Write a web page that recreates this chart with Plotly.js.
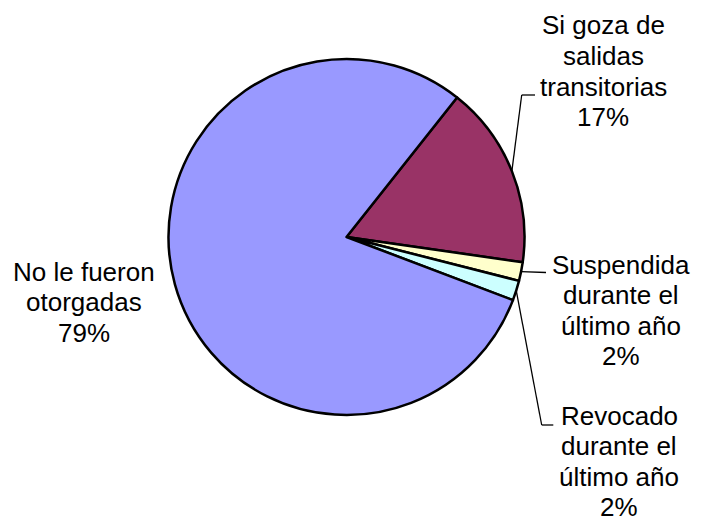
<!DOCTYPE html>
<html>
<head>
<meta charset="utf-8">
<script src="https://cdn.plot.ly/plotly-3.0.1.min.js"></script>
<style>html,body{margin:0;padding:0;background:#fff;}#chart{width:701px;height:522px;}</style>
</head>
<body>
<div id="chart"></div>
<script>
// ---- data ----
const categories = ["Si goza de salidas transitorias", "Suspendida durante el último año", "Revocado durante el último año", "No le fueron otorgadas"];
const values = [16.6, 1.7, 1.8, 79.9];
const pctLabels = ["17%", "2%", "2%", "79%"];
const labelLines = [
  ["Si goza de", "salidas", "transitorias"],
  ["Suspendida", "durante el", "último año"],
  ["Revocado", "durante el", "último año"],
  ["No le fueron", "otorgadas"]
];
const colors = ["#993366", "#FFFFCC", "#CCFFFF", "#9999FF"];

// ---- layout / geometry ----
const W = 701, H = 522;
const cx = 346.5, cy = 237, R = 178;
const rotation = 38.4;
const lineGap = 30.6;
// label placement (pixels): centre x, baseline of first line
const labelPos = [
  {x: 603, b: 35},
  {x: 621, b: 274},
  {x: 619, b: 425},
  {x: 84, b: 281}
];
// leader line bend points (pixels), null = no leader
const leaderBends = [
  [[521.7, 95], [535, 95]],
  [[546, 272.5]],
  [[541.7, 425], [553.3, 425]],
  null
];

const px = x => x / W;
const py = y => 1 - y / H;

const total = values.reduce((a, b) => a + b, 0);
let acc = rotation;
const midAngles = values.map(v => { const span = v / total * 360; const m = acc + span / 2; acc += span; return m; });

const annotations = [];
labelLines.forEach((lines, i) => {
  const all = lines.concat([pctLabels[i]]);
  all.forEach((t, j) => {
    annotations.push({
      xref: 'paper', yref: 'paper', showarrow: false,
      x: px(labelPos[i].x), y: py(labelPos[i].b + j * lineGap - 9.5),
      xanchor: 'center', yanchor: 'middle',
      text: t,
      font: {family: 'Liberation Sans, Arial, sans-serif', size: 26, color: '#000'}
    });
  });
});

const shapes = [];
leaderBends.forEach((bends, i) => {
  if (!bends) return;
  const a = midAngles[i] * Math.PI / 180;
  let pts = [[cx + R * Math.sin(a), cy - R * Math.cos(a)]].concat(bends);
  for (let k = 0; k < pts.length - 1; k++) {
    shapes.push({type: 'line', xref: 'paper', yref: 'paper',
      x0: px(pts[k][0]), y0: py(pts[k][1]), x1: px(pts[k + 1][0]), y1: py(pts[k + 1][1]),
      line: {color: '#000', width: 1.3}});
  }
});

const trace = {
  type: 'pie',
  labels: categories,
  values: values,
  sort: false,
  direction: 'clockwise',
  rotation: rotation,
  textinfo: 'none',
  hoverinfo: 'label+percent',
  marker: {colors: colors, line: {color: '#000', width: 2.5}},
  domain: {x: [px(cx - R), px(cx + R)], y: [py(cy + R), py(cy - R)]},
  showlegend: false
};

Plotly.newPlot('chart', [trace], {
  width: W, height: H,
  margin: {l: 0, r: 0, t: 0, b: 0},
  paper_bgcolor: '#fff',
  showlegend: false,
  annotations: annotations,
  shapes: shapes
}, {displayModeBar: false, staticPlot: true});
</script>
</body>
</html>
